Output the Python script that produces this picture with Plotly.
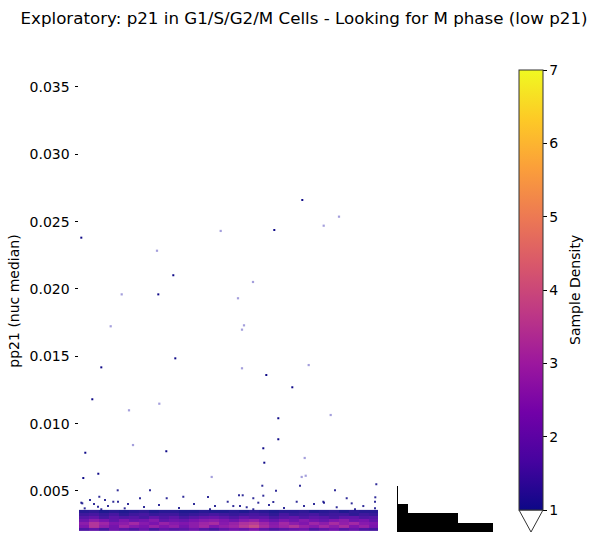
import plotly.graph_objects as go

# ---------------- data ----------------
# isolated (outlier) cells: x position (arbitrary index), pp21 value
out_x = [223.3, 195.3, 2.3, 94.3, 79.3, 96.3, 22.3, 187.3, 213.3, 13.3, 199.3, 199.3,
         6.3, 87.3, 184.3, 185.3, 19.3, 4.3]
out_y = [0.02661, 0.02438, 0.02381, 0.02102, 0.01960, 0.01485, 0.01418, 0.01361, 0.01270, 0.01181,
         0.01040, 0.00884, 0.00784, 0.00795, 0.00817, 0.00710, 0.00628, 0.00596]
faint_x = [260.0, 244.7, 141.7, 78.0, 174.0, 42.7, 159.0, 31.7, 165.0, 163.0, 163.0, 229.7,
           80.3, 50.0, 251.7, 54.0, 225.7, 132.7, 222.7, 226.7]
faint_y = [0.02537, 0.02470, 0.02431, 0.02284, 0.02052, 0.01960, 0.01931, 0.01723, 0.01730, 0.01698,
           0.01411, 0.01435, 0.01148, 0.01099, 0.01064, 0.00841, 0.00745, 0.00604, 0.00604, 0.00613]
# sparse cells just above the dense band
sparse_x = [183.3, 221.0, 297.3, 197.0, 38.7, 71.0, 256.0, 184.3, 160.0, 163.7, 104.3, 20.3,
            129.0, 296.3, 194.3, 11.0, 26.0, 87.7, 174.3, 217.7, 244.3, 267.7, 148.7, 61.0,
            3.3, 34.3, 2.3, 15.0, 19.0, 29.0, 39.0, 49.0, 5.7, 22.3, 45.7, 136.0, 154.3, 161.0,
            167.7, 179.3, 131.0, 174.3, 245.0, 272.7, 284.3, 296.0, 296.0, 257.7, 276.0, 65.0,
            80.0, 100.0, 115.0, 190.0, 205.0, 225.0, 235.0]
sparse_y = [0.00539, 0.00539, 0.00550, 0.00502, 0.00505, 0.00505, 0.00505, 0.00465, 0.00468, 0.00468,
            0.00457, 0.00457, 0.00455, 0.00453, 0.00418, 0.00433, 0.00433, 0.00446, 0.00446, 0.00420,
            0.00420, 0.00446, 0.00420, 0.00446, 0.00408, 0.00420, 0.00413, 0.00403, 0.00383, 0.00388,
            0.00420, 0.00403, 0.00371, 0.00364, 0.00371, 0.00388, 0.00388, 0.00388, 0.00379, 0.00413,
            0.00364, 0.00364, 0.00413, 0.00408, 0.00388, 0.00420, 0.00371, 0.00379, 0.00364, 0.00381,
            0.00396, 0.00374, 0.00403, 0.00396, 0.00374, 0.00388, 0.00403]

# density of the dense band (cells per pixel), 30 columns x 7 rows
dens_x = [5 + 10 * i for i in range(30)]
dens_y = [0.00214, 0.00236, 0.00258, 0.00281, 0.00303, 0.00325, 0.00348]
dens_z = [
    [1.6, 1.9, 1.5, 2.1, 1.8, 1.6, 2.0, 1.5, 1.9, 1.7, 1.8, 2.1, 1.7, 1.5, 1.9, 2.2, 2.0, 2.4, 1.9, 1.6,
     1.8, 2.0, 2.1, 1.6, 1.9, 2.2, 1.7, 2.0, 1.6, 1.5],
    [2.4, 3.3, 2.7, 2.2, 2.9, 2.5, 2.3, 2.8, 2.4, 2.7, 2.2, 2.6, 3.0, 2.4, 2.7, 2.9, 3.4, 3.8, 3.1, 2.6,
     2.9, 3.3, 2.8, 2.5, 3.0, 2.6, 3.1, 2.4, 2.8, 2.3],
    [2.6, 3.3, 2.9, 2.4, 2.6, 3.0, 2.5, 2.3, 2.8, 2.5, 2.4, 2.6, 2.9, 3.1, 2.5, 2.8, 3.2, 3.4, 2.9, 2.5,
     3.0, 2.6, 2.4, 2.9, 2.6, 3.1, 2.7, 3.0, 2.5, 2.4],
    [2.1, 2.6, 2.3, 1.9, 2.4, 2.0, 2.2, 2.5, 1.9, 2.1, 2.0, 2.3, 2.5, 2.6, 2.4, 2.1, 2.5, 2.7, 2.3, 2.0,
     2.4, 2.1, 2.5, 2.2, 2.0, 2.4, 2.6, 2.1, 2.3, 1.9],
    [1.7, 1.9, 1.5, 1.8, 1.6, 1.7, 1.5, 1.9, 1.6, 1.8, 1.5, 1.7, 1.9, 2.0, 1.8, 1.6, 1.9, 1.7, 1.8, 1.5,
     1.7, 1.9, 1.6, 1.8, 1.7, 1.5, 1.8, 1.9, 1.6, 1.7],
    [1.4, 1.5, 1.3, 1.5, 1.2, 1.4, 1.5, 1.3, 1.4, 1.4, 1.2, 1.3, 1.4, 1.5, 1.4, 1.3, 1.4, 1.5, 1.4, 1.2,
     1.5, 1.3, 1.4, 1.5, 1.3, 1.4, 1.4, 1.2, 1.4, 1.3],
    [1.1, 1.2, 1.0, 1.1, 1.0, 1.1, 1.2, 1.0, 1.1, 1.1, 1.0, 1.0, 1.1, 1.0, 1.0, 1.1, 1.0, 1.2, 1.1, 1.0,
     1.1, 1.1, 1.2, 1.0, 1.1, 1.2, 1.0, 1.2, 1.1, 1.1],
]

# marginal histogram of pp21
hist_centers = [0.002265, 0.002975, 0.003685]
hist_counts = [2840, 1790, 300]
hist_width = 0.00071

title = "Exploratory: p21 in G1/S/G2/M Cells - Looking for M phase (low p21)"
y_ticks = [0.005, 0.010, 0.015, 0.020, 0.025, 0.030, 0.035]
cbar_ticks = [1, 2, 3, 4, 5, 6, 7]

# ---------------- figure ----------------
W, H = 595, 542
ml, mr, mt, mb = 79, 102, 70, 10
pw, ph = W - ml - mr, H - mt - mb
def px_x(p): return (p - ml) / pw
def px_y(p): return (H - mb - p) / ph

FONT = "DejaVu Sans"
dark = "#0d0887"

fig = go.Figure()
fig.add_trace(go.Heatmap(
    x=dens_x, y=dens_y, z=dens_z, colorscale="Plasma", zmin=1, zmax=7, opacity=0.92,
    hoverongaps=False,
    colorbar=dict(
        x=px_x(519), xanchor="left", xpad=0, ypad=0,
        y=px_y(70), yanchor="top", len=440, lenmode="pixels",
        thickness=24, thicknessmode="pixels",
        outlinewidth=1, outlinecolor="#333333",
        tickvals=cbar_ticks, ticks="outside", ticklen=3.5, tickcolor="black",
        tickfont=dict(size=14, color="black", family=FONT),
    ),
))
fig.add_trace(go.Scatter(x=out_x, y=out_y, mode="markers",
                         marker=dict(symbol="square", size=2, color=dark, line_width=0),
                         showlegend=False))
fig.add_trace(go.Scatter(x=faint_x, y=faint_y, mode="markers",
                         marker=dict(symbol="square", size=2.2, color="#5a50c0", opacity=0.55, line_width=0),
                         showlegend=False))
fig.add_trace(go.Scatter(x=sparse_x, y=sparse_y, mode="markers",
                         marker=dict(symbol="square", size=2, color=dark, opacity=0.85, line_width=0),
                         showlegend=False))
fig.add_trace(go.Bar(y=hist_centers, x=hist_counts, width=hist_width, orientation="h",
                     marker=dict(color="black", line_width=0), xaxis="x2", yaxis="y2",
                     showlegend=False))

ymin = (558.3 - 532) * 0.005 / 67.33
ymax = (558.3 - 70) * 0.005 / 67.33
yh = (558.3 - 486) * 0.005 / 67.33

fig.update_layout(
    width=W, height=H, margin=dict(l=ml, r=mr, t=mt, b=mb),
    paper_bgcolor="white", plot_bgcolor="white",
    font=dict(family=FONT, size=14, color="black"),
    title=dict(text=title, x=304 / W, xanchor="center", y=1 - 18 / H, yanchor="middle",
               font=dict(size=16.7, color="black", family=FONT)),
    xaxis=dict(domain=[0, px_x(378)], range=[0, 299], visible=False),
    yaxis=dict(range=[ymin, ymax], tickvals=y_ticks, tickformat=".3f", ticks="outside",
               ticklen=3.5, tickcolor="black", showgrid=False, zeroline=False, showline=False,
               ticklabelstandoff=2,
               tickfont=dict(size=14),
               title=dict(text="pp21 (nuc median)", standoff=6, font=dict(size=14))),
    xaxis2=dict(domain=[px_x(398), 1], range=[0, max(hist_counts)], visible=False, anchor="y2"),
    yaxis2=dict(domain=[0, px_y(486)], range=[ymin, yh], anchor="x2", showline=True,
                linecolor="black", linewidth=1, showticklabels=False, ticks="", showgrid=False,
                zeroline=False),
    bargap=0,
    annotations=[dict(text="Sample Density", xref="paper", yref="paper",
                      x=px_x(575), y=px_y(290), textangle=-90, showarrow=False,
                      xanchor="center", yanchor="middle",
                      font=dict(size=14, color="black", family=FONT))],
    shapes=[dict(type="path", xref="paper", yref="paper",
                 path=f"M {px_x(519)},{px_y(510)} L {px_x(543)},{px_y(510)} L {px_x(531)},{px_y(532)} Z",
                 fillcolor="white", line=dict(color="#333333", width=1))],
)

fig.write_html("out.html")
